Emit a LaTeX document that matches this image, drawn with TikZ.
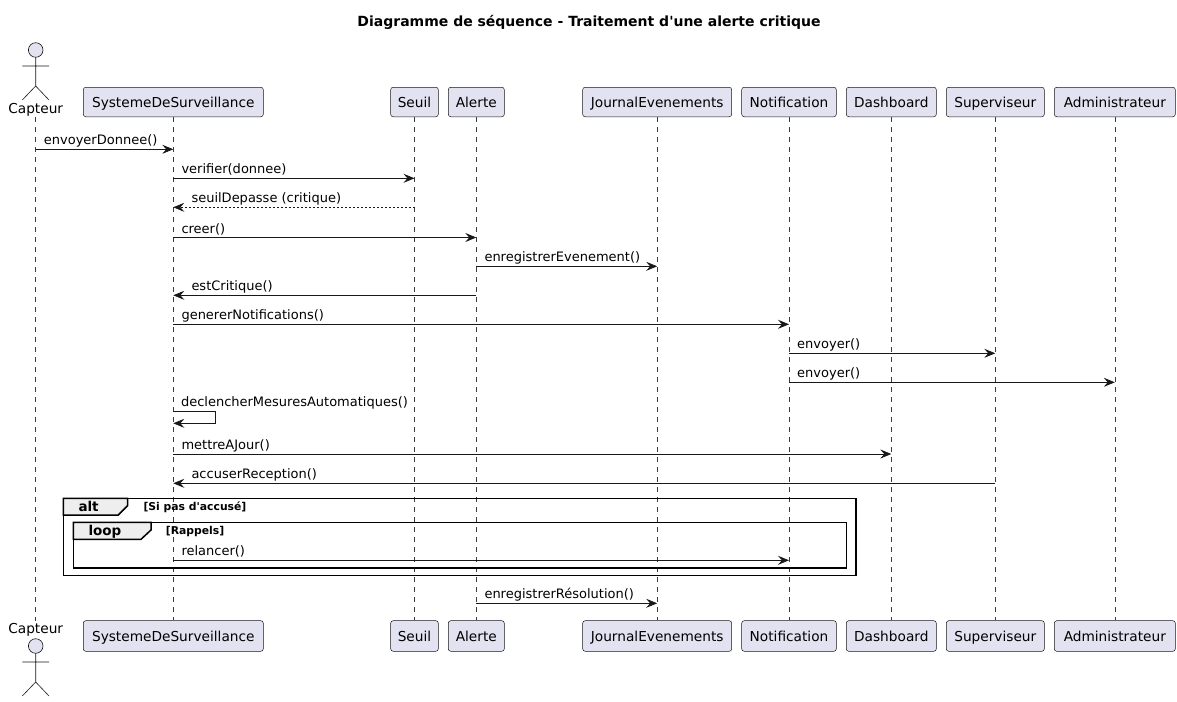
\documentclass[tikz,border=0pt]{standalone}
\usepackage{fontspec}
\setmainfont{DejaVu Sans}
\usetikzlibrary{arrows.meta,calc}
\definecolor{pfill}{HTML}{E2E2F0}
\definecolor{pline}{HTML}{181818}
\definecolor{tabfill}{HTML}{EEEEEE}
\begin{document}
\begin{tikzpicture}[x=1pt,y=-1pt,
 part/.style={draw=pline, fill=pfill, rounded corners=2.5pt, line width=0.5pt, minimum height=29.5pt, inner sep=0pt, text height=13.6pt, text depth=3pt, font=\fontsize{13.7}{16}\selectfont},
 life/.style={draw=pline!85, dash pattern=on 5pt off 5pt, line width=0.5pt},
 msg/.style={draw=pline, line width=0.8pt, -{Stealth[length=11pt,width=9pt,inset=4pt]}},
 ret/.style={msg, dash pattern=on 2pt off 2pt},
 lbl/.style={inner sep=0pt, font=\fontsize{13}{16}\selectfont, anchor=base west},
 frm/.style={draw=black, line width=1.5pt},
 tabshape/.style={draw=black, line width=1.5pt, fill=tabfill},
 actor/.style={draw=pline, line width=0.6pt},
 albl/.style={inner sep=0pt, font=\fontsize{13.7}{16}\selectfont, anchor=base}
]
\useasboundingbox (0,0) rectangle (1177,701);
\fill[white] (0,0) rectangle (1177,701);

% title
\node[inner sep=0pt, anchor=base, font=\bfseries\fontsize{14}{16}\selectfont] (title) at (589,27) {Diagramme de séquence - Traitement d\textquotesingle une alerte critique};

% participants top
\node[part, minimum width=180pt] (sysT) at (173.3,102) {SystemeDeSurveillance};
\node[part, minimum width=47.6pt] (seuilT) at (414.5,102) {Seuil};
\node[part, minimum width=56pt] (alerteT) at (476.3,102) {Alerte};
\node[part, minimum width=149pt] (journalT) at (657.2,102) {JournalEvenements};
\node[part, minimum width=94.6pt] (notifT) at (789,102) {Notification};
\node[part, minimum width=90pt] (dashT) at (891.3,102) {Dashboard};
\node[part, minimum width=98pt] (supT) at (995.3,102) {Superviseur};
\node[part, minimum width=121pt] (adminT) at (1114.8,102) {Administrateur};
% participants bottom
\node[part, minimum width=180pt, minimum height=30.6pt] (sysB) at (173.3,636) {SystemeDeSurveillance};
\node[part, minimum width=47.6pt, minimum height=30.6pt] (seuilB) at (414.5,636) {Seuil};
\node[part, minimum width=56pt, minimum height=30.6pt] (alerteB) at (476.3,636) {Alerte};
\node[part, minimum width=149pt, minimum height=30.6pt] (journalB) at (657.2,636) {JournalEvenements};
\node[part, minimum width=94.6pt, minimum height=30.6pt] (notifB) at (789,636) {Notification};
\node[part, minimum width=90pt, minimum height=30.6pt] (dashB) at (891.3,636) {Dashboard};
\node[part, minimum width=98pt, minimum height=30.6pt] (supB) at (995.3,636) {Superviseur};
\node[part, minimum width=121pt, minimum height=30.6pt] (adminB) at (1114.8,636) {Administrateur};

% actor Capteur top
\node[albl] (capT) at (35.7,113.5) {Capteur};
\draw[actor, fill=pfill] (35.7,50) circle (7.3);
\draw[actor] (35.7,57.3) -- (35.7,86) (22.3,66) -- (49,66) (22.3,100) -- (35.7,86) -- (49,100);
% actor Capteur bottom
\node[albl] (capB) at (35.7,633.3) {Capteur};
\draw[actor, fill=pfill] (35.7,646) circle (7.3);
\draw[actor] (35.7,653.3) -- (35.7,682) (22.3,662) -- (49,662) (22.3,696) -- (35.7,682) -- (49,696);
\coordinate (capTop) at (35.7,117);
\coordinate (capBot) at (35.7,621);

% lifelines
\draw[life] (capTop) -- (capBot);
\foreach \p in {sys,seuil,alerte,journal,notif,dash,sup,admin}{
  \draw[life] (\p T.south) -- (\p B.north);
}

% frames
\draw[frm] (63.3,498.3) rectangle (856,575.7);
\draw[tabshape] (63.3,498.3) -- (127.7,498.3) -- (127.7,505.5) -- (118.3,515) -- (63.3,515) -- cycle;
\node[inner sep=0pt, anchor=base west, font=\bfseries\fontsize{13.5}{16}\selectfont] (altlbl) at (78.3,511) {alt};
\node[inner sep=0pt, anchor=base west, font=\bfseries\fontsize{10.8}{12}\selectfont] (altguard) at (143.3,510) {[Si pas d\textquotesingle accusé]};
\draw[frm] (73.3,522.3) rectangle (846.7,568);
\draw[tabshape] (73.3,522.3) -- (151,522.3) -- (151,530) -- (141,539.3) -- (73.3,539.3) -- cycle;
\node[inner sep=0pt, anchor=base west, font=\bfseries\fontsize{13.5}{16}\selectfont] (looplbl) at (88.3,535) {loop};
\node[inner sep=0pt, anchor=base west, font=\bfseries\fontsize{10.8}{12}\selectfont] (loopguard) at (165.7,534) {[Rappels]};

% messages
\draw[msg] (capTop |- 0,149.3) -- (sysT |- 0,149.3);
\node[lbl] at ($(capTop |- 0,144.8)+(8,0)$) {envoyerDonnee()};

\draw[msg] (sysT |- 0,178.3) -- (seuilT |- 0,178.3);
\node[lbl] at ($(sysT |- 0,173.8)+(8,0)$) {verifier(donnee)};

\draw[ret] (seuilT |- 0,207.3) -- (sysT |- 0,207.3);
\node[lbl] at ($(sysT |- 0,202.8)+(18,0)$) {seuilDepasse (critique)};

\draw[msg] (sysT |- 0,237.5) -- (alerteT |- 0,237.5);
\node[lbl] at ($(sysT |- 0,233)+(8,0)$) {creer()};

\draw[msg] (alerteT |- 0,266.3) -- (journalT |- 0,266.3);
\node[lbl] at ($(alerteT |- 0,261.8)+(8,0)$) {enregistrerEvenement()};

\draw[msg] (alerteT |- 0,295.3) -- (sysT |- 0,295.3);
\node[lbl] at ($(sysT |- 0,290.8)+(18,0)$) {estCritique()};

\draw[msg] (sysT |- 0,324.3) -- (notifT |- 0,324.3);
\node[lbl] at ($(sysT |- 0,319.8)+(8,0)$) {genererNotifications()};

\draw[msg] (notifT |- 0,353.3) -- (supT |- 0,353.3);
\node[lbl] at ($(notifT |- 0,348.8)+(8,0)$) {envoyer()};

\draw[msg] (notifT |- 0,382.3) -- (adminT |- 0,382.3);
\node[lbl] at ($(notifT |- 0,377.8)+(8,0)$) {envoyer()};

\draw[msg] (sysT |- 0,411.7) -- (215,411.7) -- (215,423.3) -- (sysT |- 0,423.3);
\node[lbl] at ($(sysT |- 0,406.8)+(7.5,0)$) {declencherMesuresAutomatiques()};

\draw[msg] (sysT |- 0,454) -- (dashT |- 0,454);
\node[lbl] at ($(sysT |- 0,449.5)+(8,0)$) {mettreAJour()};

\draw[msg] (supT |- 0,483.3) -- (sysT |- 0,483.3);
\node[lbl] at ($(sysT |- 0,478.8)+(18,0)$) {accuserReception()};

\draw[msg] (sysT |- 0,560.3) -- (notifT |- 0,560.3);
\node[lbl] at ($(sysT |- 0,555.8)+(8,0)$) {relancer()};

\draw[msg] (alerteT |- 0,603.3) -- (journalT |- 0,603.3);
\node[lbl] at ($(alerteT |- 0,598.8)+(8,0)$) {enregistrerRésolution()};
\end{tikzpicture}
\end{document}
